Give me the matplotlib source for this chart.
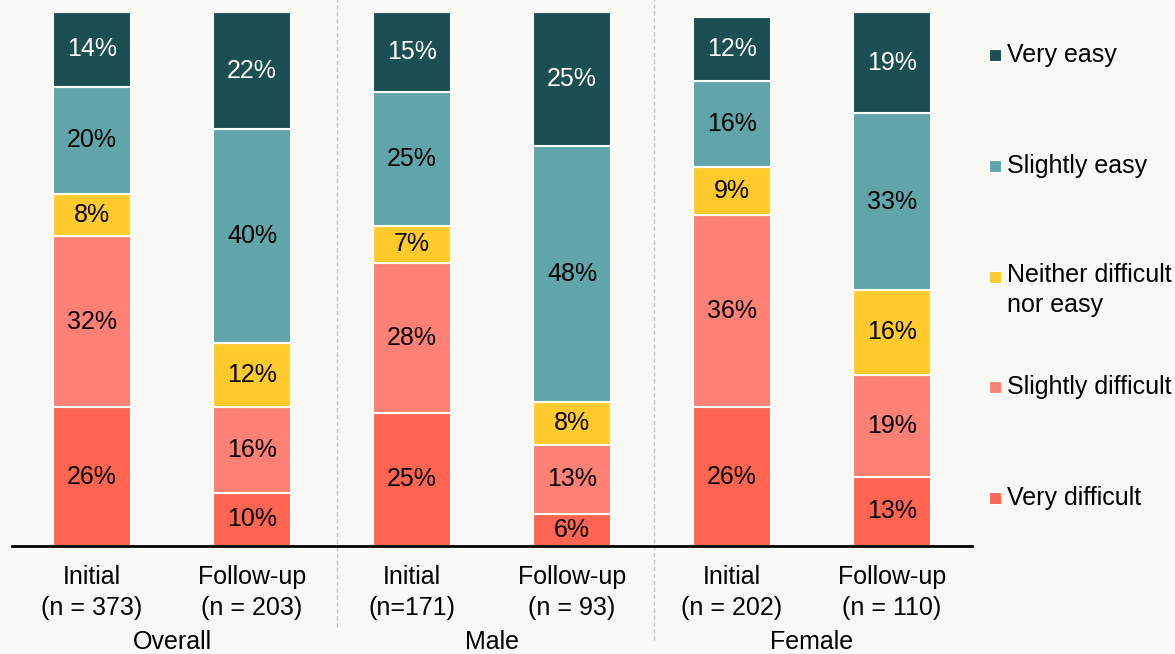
import matplotlib
matplotlib.use('Agg')
import matplotlib.pyplot as plt
from matplotlib.patches import Rectangle
import numpy as np

plt.rcParams['font.family'] = ['Liberation Sans', 'DejaVu Sans']

# data (percent of respondents)
tick_labels = ['Initial\n(n = 373)', 'Follow-up\n(n = 203)',
               'Initial\n(n=171)', 'Follow-up\n(n = 93)',
               'Initial\n(n = 202)', 'Follow-up\n(n = 110)']
groups = ['Overall', 'Male', 'Female']
categories = ['Very difficult', 'Slightly difficult', 'Neither difficult\nnor easy',
              'Slightly easy', 'Very easy']
very_difficult = [26, 10, 25, 6, 26, 13]
slightly_difficult = [32, 16, 28, 13, 36, 19]
neither = [8, 12, 7, 8, 9, 16]
slightly_easy = [20, 40, 25, 48, 16, 33]
very_easy = [14, 22, 15, 25, 12, 19]

series = [very_difficult, slightly_difficult, neither, slightly_easy, very_easy]
colors = ['#ff6550', '#ff8074', '#ffca2a', '#5fa5a9', '#1b4f52']
text_colors = ['black', 'black', 'black', 'black', 'white']
bg = '#f8f8f4'
fs = 18

W, H = 1175, 654
fig = plt.figure(figsize=(W / 100, H / 100), dpi=100, facecolor=bg)
ax = fig.add_axes([12 / W, (H - 546) / H, 960 / W, 534 / H], facecolor=bg)

x = np.arange(len(tick_labels))
bottom = np.zeros(len(x))
for vals, c, tc in zip(series, colors, text_colors):
    bars = ax.bar(x, vals, 0.49, bottom=bottom, color=c, edgecolor='white',
                  linewidth=1.5, zorder=2)
    ax.bar_label(bars, labels=[f'{v}%' for v in vals], label_type='center',
                 color=tc, fontsize=fs)
    bottom += np.array(vals)

ax.set_xlim(-0.5, 5.5)
ax.set_ylim(0, 100)
ax.set_yticks([])
ax.set_xticks(x)
ax.set_xticklabels(tick_labels, fontsize=fs, linespacing=1.32)
ax.tick_params(axis='x', length=0, pad=14)
for s in ['top', 'left', 'right']:
    ax.spines[s].set_visible(False)
ax.spines['bottom'].set_linewidth(2)
ax.spines['bottom'].set_zorder(3)

# group dividers and names
ax.axvline(1.53, ymin=-0.152, ymax=1.03, color='#c4c4c4', lw=1,
           ls=(0, (3, 2)), clip_on=False, zorder=0)
ax.axvline(3.51, ymin=-0.176, ymax=1.03, color='#c4c4c4', lw=1,
           ls=(0, (3, 2)), clip_on=False, zorder=0)
trans = ax.get_xaxis_transform()
for i, g in enumerate(groups):
    ax.text(2 * i + 0.5, -(642 - 546) / 534, g, transform=trans, ha='center',
            va='center', fontsize=fs)

# legend, top entry first (baseline is the last line of the label)
leg_y = [55, 166, 277, 387, 498]
leg_base = [62, 173, 312, 394, 505]
for lab, c, y, yb in zip(categories[::-1], colors[::-1], leg_y, leg_base):
    fig.patches.append(Rectangle((989 / W, 1 - (y + 6) / H), 12 / W, 12 / H,
                                 transform=fig.transFigure, facecolor=c,
                                 edgecolor='white', linewidth=0.8))
    fig.text(1007 / W, 1 - yb / H, lab, ha='left', va='baseline', fontsize=fs,
             linespacing=1.32)

fig.savefig('out.png', dpi=100, facecolor=bg)
